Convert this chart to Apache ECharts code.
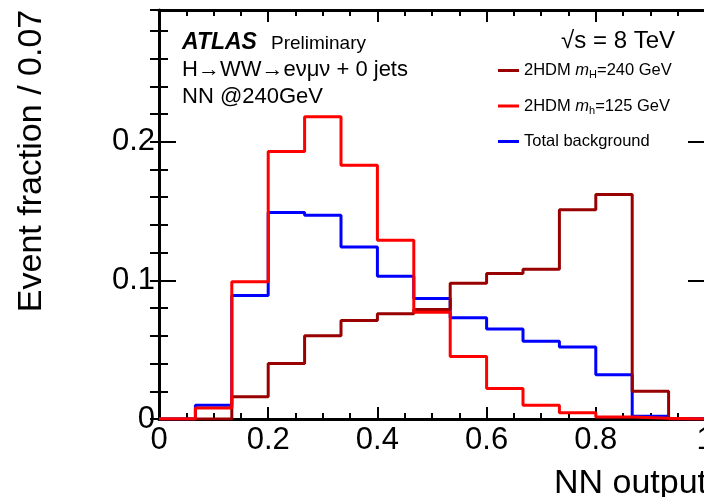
<!DOCTYPE html>
<html><head><meta charset="utf-8">
<script src="https://cdn.jsdelivr.net/npm/echarts@6/dist/echarts.min.js"></script>
<style>html,body{margin:0;padding:0;background:#fff}#c{width:704px;height:497px}</style>
</head><body><div id="c"></div>
<script>
// Bin edges of the NN output histogram (15 bins of width 1/15)
const binEdges = [0, 1/15, 2/15, 3/15, 4/15, 5/15, 6/15, 7/15, 8/15, 9/15, 10/15, 11/15, 12/15, 13/15, 14/15, 1];
// Event fractions per bin
const sigH240 = [0, 0, 0.016, 0.040, 0.060, 0.071, 0.076, 0.079, 0.098, 0.105, 0.108, 0.151, 0.162, 0.020, 0];
const sigh125 = [0, 0.008, 0.099, 0.193, 0.218, 0.183, 0.129, 0.077, 0.045, 0.022, 0.010, 0.0045, 0.0015, 0.0005, 0];
const totalBkg = [0, 0.010, 0.089, 0.149, 0.147, 0.124, 0.103, 0.087, 0.073, 0.065, 0.056, 0.052, 0.032, 0.002, 0.0002];
const seriesNames = ['2HDM mH=240 GeV', '2HDM mh=125 GeV', 'Total background'];
const xTicks = [0, 0.2, 0.4, 0.6, 0.8, 1];
const yTicks = [0, 0.1, 0.2];

const FONT = '"Liberation Sans", Arial, Helvetica, sans-serif';

function steps(vals) {
  const pts = vals.map((v, i) => [binEdges[i], v]);
  pts.push([binEdges[binEdges.length - 1], vals[vals.length - 1]]);
  return pts;
}

const axisLine = { show: true, onZero: false, lineStyle: { color: '#000', width: 3 } };
const tickStyle = { color: '#000', width: 2 };

const chart = echarts.init(document.getElementById('c'), null, { renderer: 'canvas' });
const option = {
  animation: false,
  backgroundColor: '#fff',
  grid: { left: 159, top: 10, right: -1, bottom: 78, containLabel: false, outerBoundsMode: 'none' },
  xAxis: [
    { type: 'value', position: 'bottom', min: 0, max: 1, interval: 0.2,
      axisLine, splitLine: { show: false },
      axisTick: { show: true, inside: true, length: 12, lineStyle: tickStyle },
      minorTick: { show: true, splitNumber: 4, length: 6, lineStyle: tickStyle },
      axisLabel: { show: true, margin: 6, fontSize: 31, color: '#000', fontFamily: FONT, hideOverlap: false,
        formatter: v => (xTicks.some(t => Math.abs(t - v) < 1e-9) ? String(+v.toFixed(1)) : '') } },
    { type: 'value', position: 'top', min: 0, max: 1, interval: 0.2,
      axisLine, splitLine: { show: false },
      axisTick: { show: true, inside: true, length: 12, lineStyle: tickStyle },
      minorTick: { show: true, splitNumber: 4, length: 6, lineStyle: tickStyle },
      axisLabel: { show: false } }
  ],
  yAxis: [
    { type: 'value', position: 'left', min: 0, max: 0.295, interval: 0.1,
      axisLine, splitLine: { show: false },
      axisTick: { show: true, inside: true, length: 17, lineStyle: tickStyle },
      axisLabel: { show: true, margin: 4, fontSize: 31, color: '#000', fontFamily: FONT, showMaxLabel: false,
        formatter: v => (yTicks.some(t => Math.abs(t - v) < 1e-9) ? String(+v.toFixed(1)) : '') } },
    { type: 'value', position: 'left', min: 0, max: 0.295, interval: 0.02,
      axisLine: { show: false }, splitLine: { show: false },
      axisTick: { show: true, inside: true, length: 9, lineStyle: tickStyle },
      axisLabel: { show: false } },
    { type: 'value', position: 'right', min: 0, max: 0.295, interval: 0.1,
      axisLine, splitLine: { show: false },
      axisTick: { show: true, inside: true, length: 17, lineStyle: tickStyle },
      axisLabel: { show: false } },
    { type: 'value', position: 'right', min: 0, max: 0.295, interval: 0.02,
      axisLine: { show: false }, splitLine: { show: false },
      axisTick: { show: true, inside: true, length: 9, lineStyle: tickStyle },
      axisLabel: { show: false } }
  ],
  legend: {
    orient: 'vertical', left: 498, top: 60.5, itemGap: 15.5, padding: 0,
    itemWidth: 21, itemHeight: 3, icon: 'rect',
    data: seriesNames,
    textStyle: { fontSize: 16.5, color: '#000', fontFamily: FONT, lineHeight: 20,
      rich: {
        a: { fontSize: 16.5, color: '#000', fontFamily: FONT, lineHeight: 20 },
        i: { fontSize: 16.5, color: '#000', fontFamily: FONT, fontStyle: 'italic', lineHeight: 20 },
        s: { fontSize: 11, color: '#000', fontFamily: FONT, padding: [9, 0, 0, 0], lineHeight: 20 }
      } },
    formatter: name => {
      if (name === seriesNames[0]) return '{a|2HDM }{i|m}{s|H}{a|=240 GeV}';
      if (name === seriesNames[1]) return '{a|2HDM }{i|m}{s|h}{a|=125 GeV}';
      return '{a|' + name + '}';
    }
  },
  graphic: [
    { type: 'text', x: 182, y: 43, silent: true,
      style: { text: '{b|ATLAS}{r|Preliminary}', verticalAlign: 'middle', rich: {
        b: { font: 'italic bold 23px ' + FONT, fill: '#000', padding: [0, 14, 0, 0] },
        r: { font: '19px ' + FONT, fill: '#000', padding: [2, 0, 0, 0] } } } },
    { type: 'text', x: 182, y: 70, silent: true,
      style: { text: 'H→WW→eνμν + 0 jets', font: '22px ' + FONT, fill: '#000', verticalAlign: 'middle', align: 'left' } },
    { type: 'text', x: 182, y: 97, silent: true,
      style: { text: 'NN @240GeV', font: '22px ' + FONT, fill: '#000', verticalAlign: 'middle', align: 'left' } },
    { type: 'text', x: 675, y: 41, silent: true,
      style: { text: '√s = 8 TeV', font: '24px ' + FONT, fill: '#000', verticalAlign: 'middle', align: 'right' } },
    { type: 'text', x: 32, y: 161, rotation: Math.PI / 2, silent: true,
      style: { text: 'Event fraction / 0.07', font: '34px ' + FONT, fill: '#000', verticalAlign: 'middle', align: 'center' } },
    { type: 'text', x: 707, y: 484, silent: true,
      style: { text: 'NN output', font: '34px ' + FONT, fill: '#000', verticalAlign: 'middle', align: 'right' } }
  ],
  series: [
    { name: seriesNames[2], type: 'line', step: 'end', symbol: 'none', color: '#0000ff',
      xAxisIndex: 0, yAxisIndex: 0, lineStyle: { width: 3, color: '#0000ff' }, data: steps(totalBkg), z: 3 },
    { name: seriesNames[0], type: 'line', step: 'end', symbol: 'none', color: '#990000',
      xAxisIndex: 0, yAxisIndex: 0, lineStyle: { width: 3, color: '#990000' }, data: steps(sigH240), z: 4 },
    { name: seriesNames[1], type: 'line', step: 'end', symbol: 'none', color: '#ff0000',
      xAxisIndex: 0, yAxisIndex: 0, lineStyle: { width: 3, color: '#ff0000' }, data: steps(sigh125), z: 5 }
  ]
};
chart.setOption(option);
</script></body></html>
